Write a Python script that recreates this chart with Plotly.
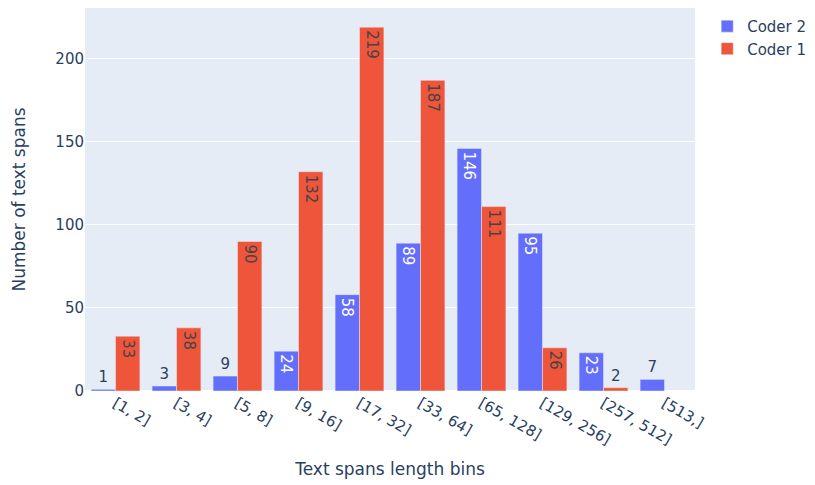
import plotly.graph_objects as go

bins = ["[1, 2]", "[3, 4]", "[5, 8]", "[9, 16]", "[17, 32]", "[33, 64]",
        "[65, 128]", "[129, 256]", "[257, 512]", "[513,]"]
coder2 = [1, 3, 9, 24, 58, 89, 146, 95, 23, 7]
coder1 = [33, 38, 90, 132, 219, 187, 111, 26, 2, None]

F = "DejaVu Sans"
S = 15
fig = go.Figure()
fig.add_trace(go.Bar(name="Coder 2", x=bins, y=coder2, text=coder2,
                     textposition="auto", textfont=dict(family=F, size=S),
                     marker_color="#636efa"))
fig.add_trace(go.Bar(name="Coder 1", x=bins, y=coder1, text=coder1,
                     textposition="auto", textfont=dict(family=F, size=S),
                     marker_color="#EF553B"))
fig.update_layout(
    template="plotly",
    barmode="group",
    width=815, height=485,
    font=dict(family=F, size=S),
    margin=dict(l=77, r=128, t=0, b=102, autoexpand=False),
    xaxis=dict(title=dict(text="Text spans length bins", font=dict(family=F, size=17)),
               tickangle=30, tickfont=dict(family=F, size=S), automargin=False),
    yaxis=dict(title=dict(text="Number of text spans", font=dict(family=F, size=17),
                          standoff=25),
               tickfont=dict(family=F, size=S), automargin=False),
    legend=dict(x=1.02, y=0.995, font=dict(family=F, size=S)),
)
fig.write_html("out.html")
